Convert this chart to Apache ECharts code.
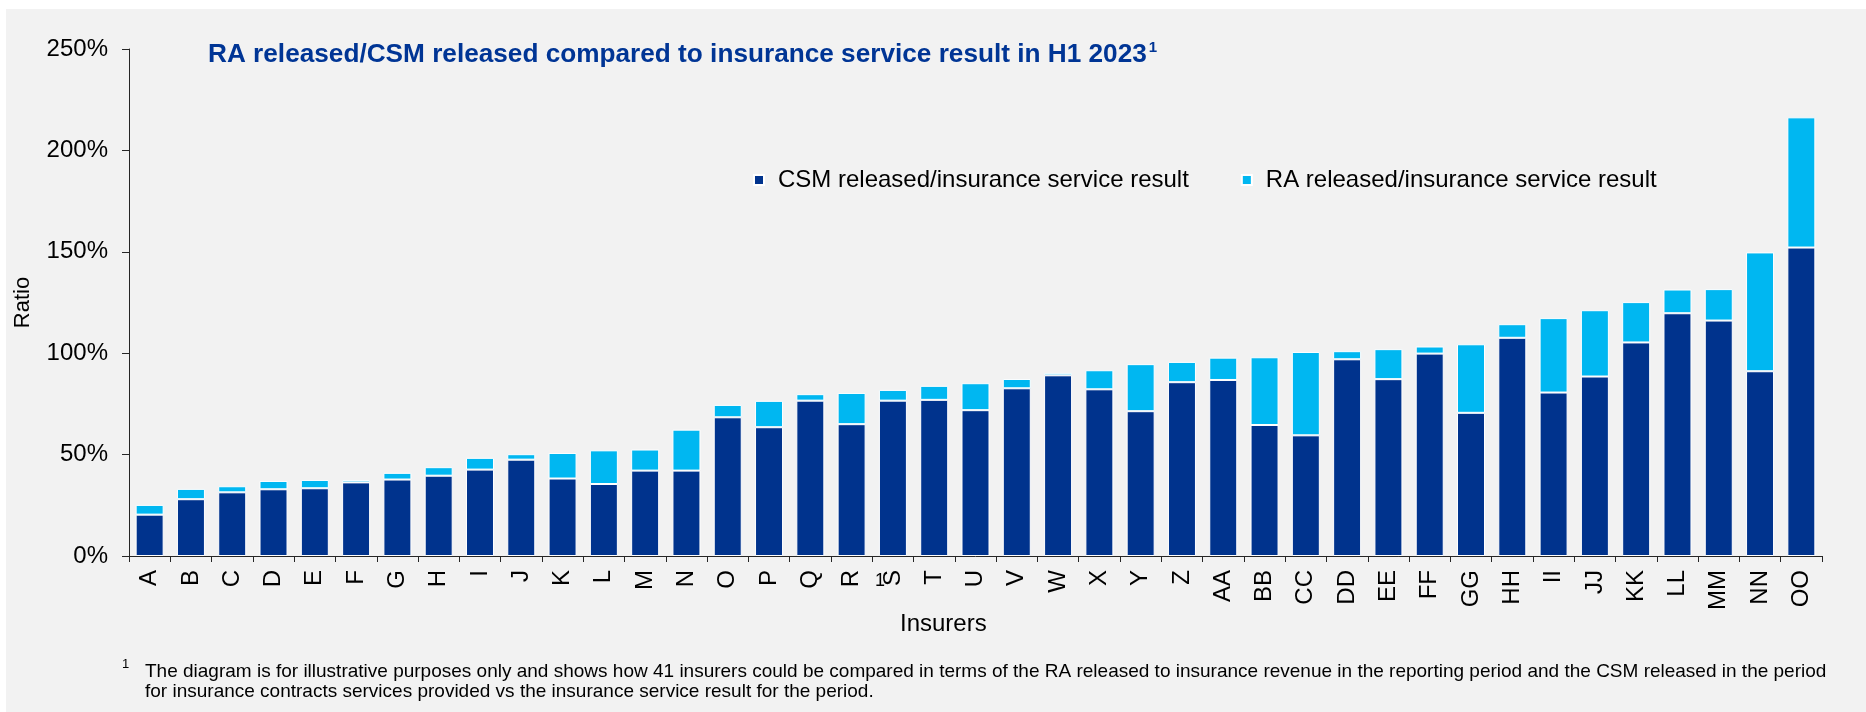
<!DOCTYPE html>
<html>
<head>
<meta charset="utf-8">
<script src="https://cdn.jsdelivr.net/npm/echarts@6/dist/echarts.min.js"></script>
<style>
  html, body { margin: 0; padding: 0; background: #fff; }
  #main { width: 1866px; height: 712px; }
</style>
</head>
<body>
<div id="main"></div>
<script>
// insurers on the x axis
var insurers = ['A','B','C','D','E','F','G','H','I','J','K','L','M','N','O','P','Q','R','S','T','U','V','W','X','Y','Z',
    'AA','BB','CC','DD','EE','FF','GG','HH','II','JJ','KK','LL','MM','NN','OO'];

// CSM released / insurance service result (%)
var csmRatio = [20.4, 28.0, 31.4, 32.9, 33.4, 36.3, 37.7, 39.6, 42.6, 47.5, 38.2, 35.5, 42.1, 42.1,
    68.4, 63.5, 76.6, 65.0, 76.6, 77.0, 71.9, 82.7, 89.1, 82.2, 71.4, 85.7,
    86.8, 64.6, 59.5, 97.0, 87.2, 99.8, 70.6, 107.6, 80.6, 88.5, 105.3, 119.7, 116.1, 91.1, 152.1];

// RA released / insurance service result (%)
var raRatio = [4.8, 5.1, 3.0, 4.1, 4.1, 1.2, 3.3, 4.2, 5.8, 2.7, 12.6, 16.6, 10.4, 20.2,
    6.1, 13.0, 3.2, 15.4, 5.3, 6.9, 13.3, 4.6, 1.2, 9.4, 23.2, 10.0,
    11.0, 33.4, 41.1, 4.0, 14.8, 3.5, 33.8, 6.7, 36.7, 32.7, 19.9, 11.7, 15.5, 58.6, 64.2];

var yTicks = { min: 0, max: 250, interval: 50 };

var FONT = '"Liberation Sans", Arial, sans-serif';

var chart = echarts.init(document.getElementById('main'));

var option = {
    backgroundColor: '#ffffff',
    textStyle: { fontFamily: FONT },
    graphic: [
        {
            type: 'rect',
            left: 6, top: 9,
            shape: { width: 1860, height: 703 },
            style: { fill: '#f2f2f2' },
            z: -10
        }
    ],
    title: [
        {
            left: 203, top: 35,
            text: '{t|RA released/CSM released compared to insurance service result in H1 2023}{s|1}',
            textStyle: {
                rich: {
                    t: { fontFamily: FONT, fontSize: 26.2, fontWeight: 'bold', color: '#003595', lineHeight: 30 },
                    s: { fontFamily: FONT, fontSize: 15, fontWeight: 'bold', color: '#003595', lineHeight: 14, verticalAlign: 'top', padding: [0, 0, 0, 2] }
                }
            }
        },
        {
            left: 895, top: 607,
            text: 'Insurers',
            textStyle: { fontFamily: FONT, fontSize: 24, fontWeight: 'normal', color: '#000' }
        },
        {
            left: 117, top: 653,
            text: '1',
            textStyle: { fontFamily: FONT, fontSize: 13, fontWeight: 'normal', color: '#000' }
        },
        {
            left: 140, top: 657,
            text: 'The diagram is for illustrative purposes only and shows how 41 insurers could be compared in terms of the RA released to insurance revenue in the reporting period and the CSM released in the period\nfor insurance contracts services provided vs the insurance service result for the period.',
            textStyle: { fontFamily: FONT, fontSize: 19, fontWeight: 'normal', color: '#000', lineHeight: 20 }
        }
    ],
    legend: {
        left: 748, top: 163,
        icon: 'rect',
        itemWidth: 10, itemHeight: 10,
        itemGap: 52,
        textStyle: { fontFamily: FONT, fontSize: 24, color: '#000', padding: [0, 0, 0, 9] },
        data: ['CSM released/insurance service result', 'RA released/insurance service result']
    },
    grid: { left: 129, right: 44, top: 49, bottom: 156, containLabel: false },
    xAxis: {
        type: 'category',
        data: insurers,
        axisLine: { lineStyle: { color: '#262626', width: 1 } },
        axisTick: { show: true, length: 6, interval: 0, lineStyle: { color: '#262626' } },
        axisLabel: { interval: 0, rotate: 90, margin: 14, fontSize: 24, color: '#000', fontFamily: FONT }
    },
    yAxis: {
        type: 'value',
        min: yTicks.min, max: yTicks.max, interval: yTicks.interval,
        name: 'Ratio',
        nameLocation: 'middle',
        nameRotate: 90,
        nameGap: 95,
        nameTextStyle: { fontSize: 22, color: '#000', fontFamily: FONT },
        axisLine: { show: true, lineStyle: { color: '#262626', width: 1 } },
        axisTick: { show: true, length: 7, lineStyle: { color: '#262626' } },
        splitLine: { show: false },
        axisLabel: { formatter: '{value}%', fontSize: 24, color: '#000', margin: 21, fontFamily: FONT }
    },
    series: [
        {
            name: 'CSM released/insurance service result',
            type: 'bar',
            stack: 'ratio',
            barWidth: 28,
            data: csmRatio,
            itemStyle: { color: '#00338d', borderColor: '#ffffff', borderWidth: 1 }
        },
        {
            name: 'RA released/insurance service result',
            type: 'bar',
            stack: 'ratio',
            barWidth: 28,
            data: raRatio,
            itemStyle: { color: '#00b7f1', borderColor: '#ffffff', borderWidth: 1 }
        }
    ]
};

chart.setOption(option);

// stray footnote marker next to the "S" label, as in the source
var sPos = chart.convertToPixel({ xAxisIndex: 0 }, 'S');
var basePos = chart.convertToPixel({ yAxisIndex: 0 }, 0);
chart.setOption({
    graphic: [
        option.graphic[0],
        {
            type: 'text',
            x: sPos - 18, y: basePos + 16,
            style: { text: '1', font: '18px ' + FONT, fill: '#000' }
        }
    ]
});
</script>
</body>
</html>
